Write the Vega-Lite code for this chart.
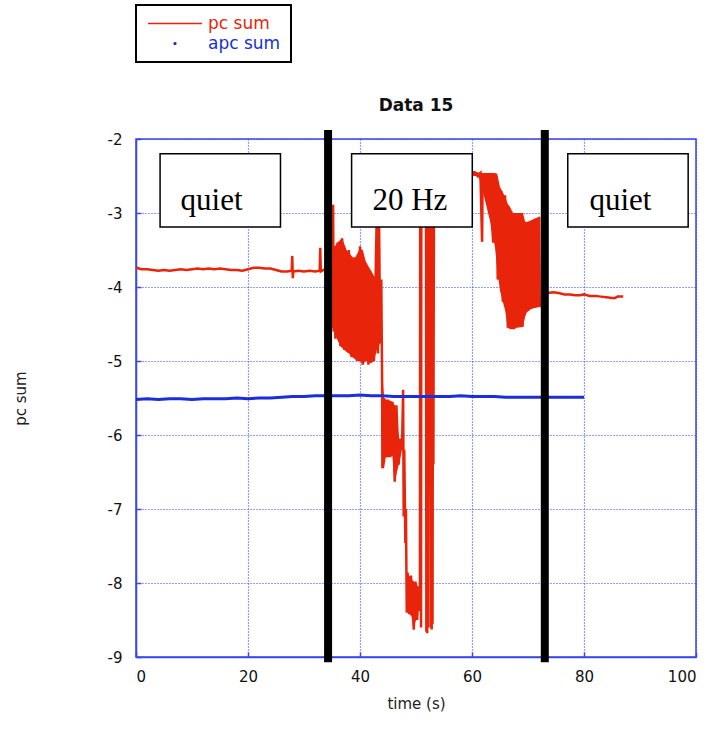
{
  "$schema": "https://vega.github.io/schema/vega-lite/v6.json",
  "width": 560,
  "height": 518,
  "autosize": {"type": "none"},
  "padding": {"left": 136, "top": 139, "right": 19, "bottom": 88},
  "background": "white",
  "title": {"text": "Data 15", "font": "DejaVu Sans", "fontSize": 17, "fontWeight": "bold", "color": "#111", "offset": -111, "anchor": "middle"},
  "config": {
    "view": {"stroke": "#3a48e8", "strokeWidth": 1.5},
    "axis": {
      "labelFont": "DejaVu Sans", "labelFontSize": 15, "labelColor": "#111",
      "titleFont": "DejaVu Sans", "titleFontSize": 15, "titleColor": "#222", "titleFontWeight": "normal",
      "grid": true, "gridColor": "#2a40f5", "gridDash": [1, 2], "gridWidth": 1.2, "gridOpacity": 1,
      "domainColor": "#3a48e8", "domainWidth": 1.5,
      "tickColor": "#3a48e8", "tickSize": -5, "tickWidth": 1.5
    }
  },
  "datasets": {
    "lines": [
      {"series": "pc sum", "t": 0, "v": -3.73}, {"series": "pc sum", "t": 0.5, "v": -3.75}, {"series": "pc sum", "t": 1, "v": -3.76}, {"series": "pc sum", "t": 2, "v": -3.76},
      {"series": "pc sum", "t": 3, "v": -3.77}, {"series": "pc sum", "t": 4, "v": -3.78}, {"series": "pc sum", "t": 5, "v": -3.77}, {"series": "pc sum", "t": 6, "v": -3.78},
      {"series": "pc sum", "t": 7, "v": -3.77}, {"series": "pc sum", "t": 8, "v": -3.76}, {"series": "pc sum", "t": 9, "v": -3.77}, {"series": "pc sum", "t": 10, "v": -3.76},
      {"series": "pc sum", "t": 11, "v": -3.75}, {"series": "pc sum", "t": 12, "v": -3.76}, {"series": "pc sum", "t": 13, "v": -3.75}, {"series": "pc sum", "t": 14, "v": -3.76},
      {"series": "pc sum", "t": 15, "v": -3.75}, {"series": "pc sum", "t": 16, "v": -3.76}, {"series": "pc sum", "t": 17, "v": -3.77}, {"series": "pc sum", "t": 18, "v": -3.77},
      {"series": "pc sum", "t": 19, "v": -3.78}, {"series": "pc sum", "t": 20, "v": -3.76}, {"series": "pc sum", "t": 21, "v": -3.74}, {"series": "pc sum", "t": 22, "v": -3.74},
      {"series": "pc sum", "t": 23, "v": -3.75}, {"series": "pc sum", "t": 24, "v": -3.75}, {"series": "pc sum", "t": 25, "v": -3.77}, {"series": "pc sum", "t": 26, "v": -3.79},
      {"series": "pc sum", "t": 27, "v": -3.79}, {"series": "pc sum", "t": 27.8, "v": -3.78}, {"series": "pc sum", "t": 27.9, "v": -3.58}, {"series": "pc sum", "t": 28.0, "v": -3.88},
      {"series": "pc sum", "t": 28.1, "v": -3.79}, {"series": "pc sum", "t": 29, "v": -3.78}, {"series": "pc sum", "t": 30, "v": -3.79}, {"series": "pc sum", "t": 31, "v": -3.78},
      {"series": "pc sum", "t": 32, "v": -3.79}, {"series": "pc sum", "t": 32.8, "v": -3.78}, {"series": "pc sum", "t": 32.9, "v": -3.47}, {"series": "pc sum", "t": 33.0, "v": -3.79},
      {"series": "pc sum", "t": 33.5, "v": -3.77}, {"series": "pc sum", "t": 34.0, "v": -3.76}, {"series": "pc sum", "t": 34.4, "v": -3.7}, {"series": "pc sum", "t": 35.0, "v": -3.6},
      {"series": "pc sum", "t": 35.1, "v": -4.55}, {"series": "pc sum", "t": 35.2, "v": -2.89}, {"series": "pc sum", "t": 35.3, "v": -4.6}, {"series": "pc sum", "t": 35.5, "v": -3.45},
      {"series": "pc sum", "t": 35.6, "v": -4.7}, {"series": "pc sum", "t": 36.0, "v": -3.4}, {"series": "pc sum", "t": 36.5, "v": -4.8}, {"series": "pc sum", "t": 36.8, "v": -3.34},
      {"series": "pc sum", "t": 37.2, "v": -4.85}, {"series": "pc sum", "t": 38.0, "v": -3.5}, {"series": "pc sum", "t": 38.5, "v": -4.95}, {"series": "pc sum", "t": 39.0, "v": -3.6},
      {"series": "pc sum", "t": 39.5, "v": -5.0}, {"series": "pc sum", "t": 40.0, "v": -3.45}, {"series": "pc sum", "t": 40.5, "v": -5.05}, {"series": "pc sum", "t": 41.0, "v": -3.68},
      {"series": "pc sum", "t": 41.5, "v": -5.05}, {"series": "pc sum", "t": 42.0, "v": -3.82}, {"series": "pc sum", "t": 42.5, "v": -5.0}, {"series": "pc sum", "t": 43.0, "v": -3.0},
      {"series": "pc sum", "t": 43.2, "v": -4.9}, {"series": "pc sum", "t": 43.4, "v": -3.05}, {"series": "pc sum", "t": 43.6, "v": -4.76}, {"series": "pc sum", "t": 43.8, "v": -3.9},
      {"series": "pc sum", "t": 43.95, "v": -5.3}, {"series": "pc sum", "t": 44.0, "v": -6.45}, {"series": "pc sum", "t": 44.3, "v": -5.5}, {"series": "pc sum", "t": 44.6, "v": -6.3},
      {"series": "pc sum", "t": 45.0, "v": -5.52}, {"series": "pc sum", "t": 45.4, "v": -6.3}, {"series": "pc sum", "t": 45.8, "v": -5.55}, {"series": "pc sum", "t": 46.2, "v": -6.63},
      {"series": "pc sum", "t": 46.5, "v": -5.6}, {"series": "pc sum", "t": 46.9, "v": -6.4}, {"series": "pc sum", "t": 47.2, "v": -6.05}, {"series": "pc sum", "t": 47.5, "v": -6.2},
      {"series": "pc sum", "t": 47.7, "v": -5.39}, {"series": "pc sum", "t": 47.8, "v": -7.1}, {"series": "pc sum", "t": 47.9, "v": -6.2}, {"series": "pc sum", "t": 48.1, "v": -7.46},
      {"series": "pc sum", "t": 48.2, "v": -7.0}, {"series": "pc sum", "t": 48.35, "v": -8.4}, {"series": "pc sum", "t": 48.5, "v": -7.86}, {"series": "pc sum", "t": 48.8, "v": -8.42},
      {"series": "pc sum", "t": 49.1, "v": -7.9}, {"series": "pc sum", "t": 49.6, "v": -8.63}, {"series": "pc sum", "t": 49.9, "v": -7.98}, {"series": "pc sum", "t": 50.2, "v": -8.5},
      {"series": "pc sum", "t": 50.5, "v": -8.05}, {"series": "pc sum", "t": 50.7, "v": -8.38}, {"series": "pc sum", "t": 50.75, "v": -3.0}, {"series": "pc sum", "t": 50.85, "v": -3.0},
      {"series": "pc sum", "t": 50.9, "v": -8.6}, {"series": "pc sum", "t": 50.95, "v": -3.0}, {"series": "pc sum", "t": 51.8, "v": -3.0}, {"series": "pc sum", "t": 51.85, "v": -8.66},
      {"series": "pc sum", "t": 51.95, "v": -3.0}, {"series": "pc sum", "t": 52.0, "v": -8.68}, {"series": "pc sum", "t": 52.1, "v": -3.0}, {"series": "pc sum", "t": 52.15, "v": -8.6},
      {"series": "pc sum", "t": 52.25, "v": -3.0}, {"series": "pc sum", "t": 52.6, "v": -3.0}, {"series": "pc sum", "t": 52.65, "v": -8.6}, {"series": "pc sum", "t": 52.75, "v": -3.0},
      {"series": "pc sum", "t": 52.8, "v": -8.63}, {"series": "pc sum", "t": 52.9, "v": -3.0}, {"series": "pc sum", "t": 52.95, "v": -8.55}, {"series": "pc sum", "t": 53.05, "v": -3.0},
      {"series": "pc sum", "t": 53.1, "v": -6.4}, {"series": "pc sum", "t": 53.2, "v": -3.0},
      {"series": "pc sum", "t": 53.4, "v": -2.8}, {"series": "pc sum", "t": 54, "v": -2.5}, {"series": "pc sum", "t": 56, "v": -2.5}, {"series": "pc sum", "t": 58, "v": -2.48},
      {"series": "pc sum", "t": 60, "v": -2.45}, {"series": "pc sum", "t": 60.5, "v": -2.45}, {"series": "pc sum", "t": 61, "v": -2.5}, {"series": "pc sum", "t": 61.5, "v": -2.46},
      {"series": "pc sum", "t": 61.8, "v": -3.39}, {"series": "pc sum", "t": 61.9, "v": -2.5}, {"series": "pc sum", "t": 62.5, "v": -2.72}, {"series": "pc sum", "t": 63, "v": -2.5},
      {"series": "pc sum", "t": 63.8, "v": -3.4}, {"series": "pc sum", "t": 64.3, "v": -2.5}, {"series": "pc sum", "t": 64.6, "v": -3.9}, {"series": "pc sum", "t": 65.2, "v": -2.7},
      {"series": "pc sum", "t": 65.5, "v": -4.2}, {"series": "pc sum", "t": 65.9, "v": -2.76}, {"series": "pc sum", "t": 66.4, "v": -4.55}, {"series": "pc sum", "t": 67, "v": -2.98},
      {"series": "pc sum", "t": 67.5, "v": -4.57}, {"series": "pc sum", "t": 68.5, "v": -3.0}, {"series": "pc sum", "t": 69, "v": -4.54}, {"series": "pc sum", "t": 69.5, "v": -3.12},
      {"series": "pc sum", "t": 70, "v": -4.32}, {"series": "pc sum", "t": 70.8, "v": -3.1}, {"series": "pc sum", "t": 71.3, "v": -4.28}, {"series": "pc sum", "t": 72, "v": -3.05},
      {"series": "pc sum", "t": 72.1, "v": -4.27}, {"series": "pc sum", "t": 72.3, "v": -4.15}, {"series": "pc sum", "t": 73, "v": -4.1}, {"series": "pc sum", "t": 73.6, "v": -4.08},
      {"series": "pc sum", "t": 74.5, "v": -4.07}, {"series": "pc sum", "t": 75.5, "v": -4.08}, {"series": "pc sum", "t": 76.5, "v": -4.1}, {"series": "pc sum", "t": 77.5, "v": -4.1},
      {"series": "pc sum", "t": 78.5, "v": -4.11}, {"series": "pc sum", "t": 79.3, "v": -4.11}, {"series": "pc sum", "t": 80, "v": -4.1}, {"series": "pc sum", "t": 81, "v": -4.12},
      {"series": "pc sum", "t": 82, "v": -4.12}, {"series": "pc sum", "t": 83, "v": -4.13}, {"series": "pc sum", "t": 84, "v": -4.14}, {"series": "pc sum", "t": 85, "v": -4.15},
      {"series": "pc sum", "t": 85.5, "v": -4.15}, {"series": "pc sum", "t": 86, "v": -4.13}, {"series": "pc sum", "t": 87, "v": -4.13},
      {"series": "apc sum", "t": 0, "v": -5.52}, {"series": "apc sum", "t": 2, "v": -5.51}, {"series": "apc sum", "t": 4, "v": -5.52}, {"series": "apc sum", "t": 6, "v": -5.51},
      {"series": "apc sum", "t": 8, "v": -5.51}, {"series": "apc sum", "t": 10, "v": -5.52}, {"series": "apc sum", "t": 12, "v": -5.51}, {"series": "apc sum", "t": 14, "v": -5.51},
      {"series": "apc sum", "t": 16, "v": -5.51}, {"series": "apc sum", "t": 18, "v": -5.5}, {"series": "apc sum", "t": 20, "v": -5.51}, {"series": "apc sum", "t": 22, "v": -5.5},
      {"series": "apc sum", "t": 24, "v": -5.5}, {"series": "apc sum", "t": 26, "v": -5.49}, {"series": "apc sum", "t": 28, "v": -5.48}, {"series": "apc sum", "t": 30, "v": -5.48},
      {"series": "apc sum", "t": 32, "v": -5.47}, {"series": "apc sum", "t": 34, "v": -5.47}, {"series": "apc sum", "t": 36, "v": -5.47}, {"series": "apc sum", "t": 38, "v": -5.47},
      {"series": "apc sum", "t": 40, "v": -5.46}, {"series": "apc sum", "t": 42, "v": -5.47}, {"series": "apc sum", "t": 44, "v": -5.47}, {"series": "apc sum", "t": 46, "v": -5.48},
      {"series": "apc sum", "t": 48, "v": -5.48}, {"series": "apc sum", "t": 50, "v": -5.48}, {"series": "apc sum", "t": 52, "v": -5.48}, {"series": "apc sum", "t": 54, "v": -5.48},
      {"series": "apc sum", "t": 56, "v": -5.48}, {"series": "apc sum", "t": 58, "v": -5.47}, {"series": "apc sum", "t": 60, "v": -5.48}, {"series": "apc sum", "t": 62, "v": -5.48},
      {"series": "apc sum", "t": 64, "v": -5.48}, {"series": "apc sum", "t": 66, "v": -5.49}, {"series": "apc sum", "t": 68, "v": -5.49}, {"series": "apc sum", "t": 70, "v": -5.49},
      {"series": "apc sum", "t": 72, "v": -5.49}, {"series": "apc sum", "t": 74, "v": -5.49}, {"series": "apc sum", "t": 76, "v": -5.49}, {"series": "apc sum", "t": 78, "v": -5.49},
      {"series": "apc sum", "t": 80, "v": -5.49}
    ],
    "bands": [
      {"seg": "A", "t": 35.1, "hi": -3.5, "lo": -4.55}, {"seg": "A", "t": 35.5, "hi": -3.45, "lo": -4.65}, {"seg": "A", "t": 36.0, "hi": -3.4, "lo": -4.72},
      {"seg": "A", "t": 36.5, "hi": -3.36, "lo": -4.8}, {"seg": "A", "t": 36.8, "hi": -3.34, "lo": -4.82}, {"seg": "A", "t": 37.2, "hi": -3.42, "lo": -4.85},
      {"seg": "A", "t": 37.6, "hi": -3.5, "lo": -4.88}, {"seg": "A", "t": 38.0, "hi": -3.53, "lo": -4.9}, {"seg": "A", "t": 38.5, "hi": -3.58, "lo": -4.94},
      {"seg": "A", "t": 39.0, "hi": -3.62, "lo": -4.97}, {"seg": "A", "t": 39.5, "hi": -3.55, "lo": -5.0}, {"seg": "A", "t": 40.0, "hi": -3.48, "lo": -5.0},
      {"seg": "A", "t": 40.5, "hi": -3.5, "lo": -5.05}, {"seg": "A", "t": 41.0, "hi": -3.65, "lo": -5.0}, {"seg": "A", "t": 41.5, "hi": -3.72, "lo": -5.02},
      {"seg": "A", "t": 42.0, "hi": -3.78, "lo": -5.03}, {"seg": "A", "t": 42.5, "hi": -3.85, "lo": -5.0}, {"seg": "A", "t": 43.0, "hi": -3.9, "lo": -4.85},
      {"seg": "A", "t": 43.6, "hi": -3.95, "lo": -4.76},
      {"seg": "B", "t": 44.0, "hi": -5.2, "lo": -6.45}, {"seg": "B", "t": 44.3, "hi": -5.5, "lo": -6.45}, {"seg": "B", "t": 44.6, "hi": -5.52, "lo": -6.3},
      {"seg": "B", "t": 45.2, "hi": -5.53, "lo": -6.3}, {"seg": "B", "t": 45.8, "hi": -5.55, "lo": -6.28}, {"seg": "B", "t": 46.0, "hi": -5.58, "lo": -6.5},
      {"seg": "B", "t": 46.3, "hi": -5.6, "lo": -6.63}, {"seg": "B", "t": 46.6, "hi": -5.85, "lo": -6.5}, {"seg": "B", "t": 47.0, "hi": -6.05, "lo": -6.38},
      {"seg": "B", "t": 47.5, "hi": -6.1, "lo": -6.2},
      {"seg": "C", "t": 48.4, "hi": -7.86, "lo": -8.4}, {"seg": "C", "t": 48.8, "hi": -7.9, "lo": -8.42}, {"seg": "C", "t": 49.2, "hi": -7.95, "lo": -8.45},
      {"seg": "C", "t": 49.6, "hi": -7.98, "lo": -8.6}, {"seg": "C", "t": 50.0, "hi": -8.0, "lo": -8.5}, {"seg": "C", "t": 50.4, "hi": -8.05, "lo": -8.36},
      {"seg": "C", "t": 50.7, "hi": -8.05, "lo": -8.38},
      {"seg": "D", "t": 60.0, "hi": -2.44, "lo": -2.5}, {"seg": "D", "t": 61.0, "hi": -2.45, "lo": -2.5}, {"seg": "D", "t": 61.8, "hi": -2.46, "lo": -2.6},
      {"seg": "D", "t": 62.0, "hi": -2.46, "lo": -2.73}, {"seg": "D", "t": 63.2, "hi": -2.46, "lo": -3.1}, {"seg": "D", "t": 64.1, "hi": -2.46, "lo": -3.46},
      {"seg": "D", "t": 64.5, "hi": -2.47, "lo": -3.75}, {"seg": "D", "t": 65.0, "hi": -2.65, "lo": -4.05}, {"seg": "D", "t": 65.5, "hi": -2.72, "lo": -4.2},
      {"seg": "D", "t": 65.9, "hi": -2.78, "lo": -4.31}, {"seg": "D", "t": 66.4, "hi": -2.88, "lo": -4.55}, {"seg": "D", "t": 66.8, "hi": -2.92, "lo": -4.57},
      {"seg": "D", "t": 67.3, "hi": -3.0, "lo": -4.57}, {"seg": "D", "t": 68.0, "hi": -3.0, "lo": -4.55}, {"seg": "D", "t": 69.1, "hi": -3.0, "lo": -4.54},
      {"seg": "D", "t": 69.5, "hi": -3.12, "lo": -4.4}, {"seg": "D", "t": 69.8, "hi": -3.12, "lo": -4.34}, {"seg": "D", "t": 70.5, "hi": -3.1, "lo": -4.3},
      {"seg": "D", "t": 71.3, "hi": -3.07, "lo": -4.28}, {"seg": "D", "t": 72.1, "hi": -3.05, "lo": -4.27}
    ],
    "boxes": [
      {"label": "quiet", "x1": 4.3, "x2": 25.8, "tx": 13.5},
      {"label": "20 Hz", "x1": 38.5, "x2": 60.05, "tx": 48.9},
      {"label": "quiet", "x1": 77.1, "x2": 98.6, "tx": 86.5}
    ],
    "markers": [{"t": 34.3}, {"t": 73.0}]
  },
  "layer": [
    {
      "data": {"name": "lines"},
      "transform": [{"filter": "datum.series === 'pc sum'"}],
      "mark": {"type": "line", "strokeWidth": 2.5, "clip": true},
      "encoding": {
        "x": {"field": "t", "type": "quantitative", "scale": {"domain": [0, 100], "nice": false},
              "axis": {"title": "time (s)", "values": [0, 20, 40, 60, 80, 100], "labelPadding": 17, "titleX": 280, "titleY": 46, "titleBaseline": "middle"}},
        "y": {"field": "v", "type": "quantitative", "scale": {"domain": [-9, -2], "nice": false, "zero": false},
              "axis": {"title": "pc sum", "values": [-2, -3, -4, -5, -6, -7, -8, -9], "labelExpr": "'' + datum.value", "labelPadding": 19, "titleX": -116, "titleY": 259, "titleAngle": -90, "titleAlign": "center", "titleBaseline": "middle"}},
        "color": {"field": "series", "type": "nominal",
                  "scale": {"domain": ["pc sum", "apc sum"], "range": ["#e8250a", "#1a2fd9"]},
                  "legend": {
                    "orient": "none", "legendX": 0, "legendY": -134, "title": null,
                    "strokeColor": "black", "fillColor": "white", "padding": 10,
                    "labelFont": "DejaVu Sans", "labelFontSize": 17, "labelOffset": 6,
                    "symbolType": "stroke", "symbolSize": 2916, "symbolStrokeWidth": 1.5, "rowPadding": 2,
                    "encode": {
                      "labels": {"update": {
                        "fill": {"signal": "datum.value === 'pc sum' ? '#e8250a' : '#1a2fd9'"},
                        "x": {"value": 62}
                      }},
                      "symbols": {"update": {
                        "shape": {"signal": "datum.value === 'pc sum' ? 'stroke' : 'circle'"},
                        "size": {"signal": "datum.value === 'pc sum' ? 2916 : 3"},
                        "fill": {"signal": "datum.value === 'pc sum' ? 'transparent' : '#1a2fd9'"},
                        "xc": {"value": 29}
                      }},
                      "legend": {"update": {"strokeWidth": {"value": 2}}}
                    }
                  }}
      }
    },
    {
      "data": {"name": "bands"},
      "mark": {"type": "area", "color": "#e8250a", "opacity": 1},
      "encoding": {
        "x": {"field": "t", "type": "quantitative"},
        "y": {"field": "hi", "type": "quantitative"},
        "y2": {"field": "lo"},
        "detail": {"field": "seg", "type": "nominal"}
      }
    },
    {
      "data": {"name": "lines"},
      "transform": [{"filter": "datum.series === 'apc sum'"}],
      "mark": {"type": "line", "strokeWidth": 3},
      "encoding": {
        "x": {"field": "t", "type": "quantitative"},
        "y": {"field": "v", "type": "quantitative"},
        "color": {"field": "series", "type": "nominal"}
      }
    },
    {
      "data": {"name": "markers"},
      "mark": {"type": "rule", "color": "black", "strokeWidth": 8},
      "encoding": {
        "x": {"field": "t", "type": "quantitative"},
        "y": {"datum": -1.88},
        "y2": {"datum": -9.07}
      }
    },
    {
      "data": {"name": "boxes"},
      "mark": {"type": "rect", "fill": "white", "stroke": "black", "strokeWidth": 1.5},
      "encoding": {
        "x": {"field": "x1", "type": "quantitative"},
        "x2": {"field": "x2"},
        "y": {"datum": -2.2},
        "y2": {"datum": -3.19}
      }
    },
    {
      "data": {"name": "boxes"},
      "mark": {"type": "text", "font": "Liberation Serif", "fontSize": 31, "color": "black", "baseline": "alphabetic", "align": "center"},
      "encoding": {
        "x": {"field": "tx", "type": "quantitative"},
        "y": {"datum": -2.96},
        "text": {"field": "label"}
      }
    }
  ]
}
